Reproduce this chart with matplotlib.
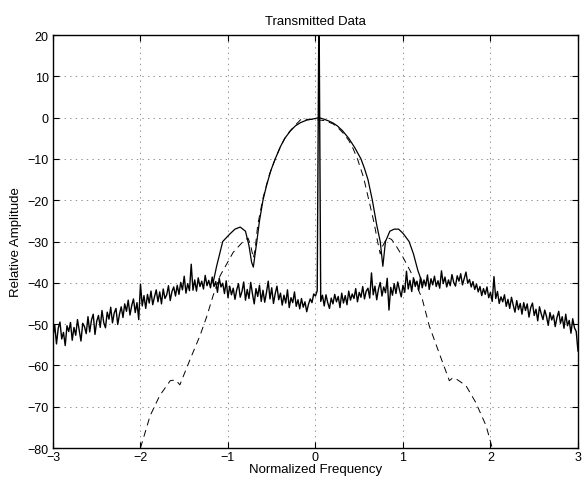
import numpy as np
import matplotlib
matplotlib.use("Agg")
import matplotlib.pyplot as plt

plt.rcParams['font.family'] = ['Liberation Sans', 'DejaVu Sans']
plt.rcParams['lines.scale_dashes'] = False

# Noise floor of the received spectrum, sampled every 0.02 from -3 to 3.
noise_x = np.round(np.arange(-3.0, 3.0001, 0.02), 2)
noise_db = [
    -53.1, -50.2, -54.8, -51.0, -49.5, -53.6, -52.0, -55.2, -50.4, -51.8,
    -49.6, -53.9, -50.8, -52.7, -48.9, -51.5, -54.1, -49.8, -50.6, -52.3,
    -48.2, -51.9, -49.0, -47.6, -52.5, -49.3, -47.9, -50.8, -46.7, -49.6,
    -50.9, -47.1, -48.8, -45.9, -49.7, -47.3, -46.2, -50.1, -47.6, -45.8,
    -48.4, -45.1, -46.9, -44.2, -47.8, -45.5, -43.9, -47.2, -44.8, -48.9,
    -40.3, -45.6, -43.1, -46.2, -42.8, -44.9, -42.0, -45.3, -43.4, -41.7,
    -44.6, -42.2, -45.1, -41.5, -43.8, -42.9, -40.7, -44.3, -42.1, -41.0,
    -43.2, -40.6, -42.8, -39.9, -41.7, -38.4, -42.5, -40.2, -41.9, -35.5,
    -41.8, -39.3, -42.0, -38.8, -40.9, -39.6, -41.5, -38.2, -40.7, -39.4,
    -41.2, -38.6, -40.9, -39.7, -42.3, -38.9, -41.0, -40.1, -42.6, -39.5,
    -43.6, -40.8, -42.9, -41.3, -44.0, -41.7, -40.2, -43.5, -42.1, -39.8,
    -44.2, -41.6, -43.8, -39.9, -42.7, -45.1, -41.4, -43.3, -40.6, -44.5,
    -41.8, -44.7, -42.3, -39.6, -43.9, -41.2, -45.0, -42.6, -40.8, -44.1,
    -42.5, -45.4, -43.0, -44.9, -41.7, -46.0, -43.6, -44.8, -42.2, -45.7,
    -44.1, -46.3, -43.8, -45.9, -44.6, -47.0, -45.2, -43.9, -44.8, -42.7,
    -43.2, -41.9, 30.0, -44.5, -43.0, -45.6, -42.9, -44.8, -46.2, -43.7,
    -45.1, -42.8, -44.6, -43.3, -46.0, -42.5, -44.9, -43.1, -45.3, -42.0,
    -44.2, -42.7, -43.8, -41.4, -44.6, -42.3, -43.5, -40.9, -43.9, -42.0,
    -41.3, -43.7, -37.6, -42.9, -40.8, -44.1, -41.5, -39.9, -43.2, -41.0,
    -42.4, -38.9, -46.6, -41.1, -43.0, -40.2, -42.6, -39.8, -41.7, -43.4,
    -40.6, -42.3, -37.2, -41.5, -39.4, -42.1, -38.8, -40.9, -39.6, -41.8,
    -38.7, -41.2, -39.3, -40.8, -38.1, -41.6, -39.0, -40.5, -38.4, -40.9,
    -39.5, -41.3, -37.1, -40.2, -38.6, -41.0, -39.3, -40.7, -38.0, -39.9,
    -40.8, -38.3, -39.6, -37.8, -40.5, -38.9, -37.4, -40.1, -39.2, -41.0,
    -39.7, -41.6, -40.3, -42.2, -40.9, -43.1, -41.4, -42.8, -41.0, -43.6,
    -42.3, -44.5, -38.5, -43.8, -42.1, -45.0, -43.4, -44.6, -42.9, -45.7,
    -44.0, -46.2, -43.5, -45.4, -47.1, -44.3, -46.5, -45.0, -47.6, -44.8,
    -46.7, -45.1, -48.3, -46.0, -44.9, -47.9, -46.4, -49.2, -45.8, -47.5,
    -48.9, -46.6, -48.1, -50.3, -47.2, -49.0, -47.8, -50.6, -48.4, -46.9,
    -49.8, -48.2, -51.0, -47.6, -50.4, -49.1, -52.2, -48.7, -50.9, -51.8,
    -56.5,
]

# Transmitted spectrum (solid) - main lobe and sidelobes
tx_x = [-1.17, -1.13, -1.06, -0.98, -0.92, -0.86, -0.80, -0.76, -0.73, -0.71,
        -0.69, -0.67, -0.64, -0.60, -0.56, -0.51, -0.46, -0.40, -0.35, -0.29,
        -0.23, -0.17, -0.10, 0.00, 0.04, 0.10, 0.15, 0.20, 0.25, 0.31,
        0.38, 0.45, 0.52, 0.56, 0.60, 0.65, 0.70, 0.74, 0.77,
        0.80, 0.85, 0.90, 0.95, 1.00, 1.07, 1.12, 1.17, 1.22]
tx_db = [-40.0, -36.0, -30.0, -28.2, -27.0, -26.5, -27.5, -31.0, -35.0, -36.2,
         -33.0, -30.0, -25.0, -20.0, -16.5, -12.8, -10.0, -7.0, -5.0, -3.3,
         -2.0, -1.2, -0.6, -0.2, 0.0, -0.4, -0.8, -1.3, -2.0, -3.2,
         -5.0, -7.3, -10.0, -12.3, -15.0, -20.0, -26.0, -30.0, -36.0,
         -30.0, -27.5, -27.0, -27.0, -28.0, -30.0, -33.0, -37.0, -40.0]

# Ideal spectrum (dashed)
ideal_x = [-2.00, -1.89, -1.78, -1.66, -1.60, -1.57, -1.55, -1.43, -1.32, -1.24,
           -1.17, -1.09, -0.94, -0.81, -0.77, -0.74, -0.71, -0.69, -0.66, -0.60,
           -0.53, -0.46, -0.40, -0.35, -0.29, -0.23, -0.16, -0.10, 0.00, 0.10,
           0.20, 0.25, 0.31, 0.38, 0.43, 0.48, 0.55, 0.61, 0.67, 0.71,
           0.74, 0.77, 0.82, 0.87, 0.92, 1.00, 1.09,
           1.22, 1.30, 1.41, 1.53, 1.57, 1.61, 1.72, 1.83, 1.95, 2.02]
ideal_db = [-80.0, -72.2, -67.3, -63.7, -63.5, -64.2, -64.7, -58.4, -52.8, -48.0,
            -43.1, -38.3, -32.6, -29.6, -29.2, -31.0, -34.0, -32.0, -26.0, -19.5,
            -14.0, -10.0, -7.0, -5.0, -3.2, -1.8, -0.3, -0.4, -0.5, -0.7,
            -1.5, -2.3, -3.6, -5.5, -7.5, -10.0, -14.5, -20.0, -25.5, -30.0,
            -33.0, -31.0, -29.0, -29.5, -31.0, -33.8, -37.4,
            -43.9, -50.4, -56.8, -63.7, -63.0, -63.3, -64.9, -68.9, -74.6, -80.0]

xticks = [-3, -2, -1, 0, 1, 2, 3]
yticks = [-80, -70, -60, -50, -40, -30, -20, -10, 0, 10, 20]

fig = plt.figure(figsize=(5.86, 4.85), dpi=100)
ax = fig.add_axes([0.0904, 0.0742, 0.8959, 0.8515])

ax.plot(noise_x, noise_db, color='black', linewidth=1.0)
ax.plot(tx_x, tx_db, color='black', linewidth=0.9)
ax.plot(ideal_x, ideal_db, color='black', linewidth=0.7, dashes=(5, 3.5))

ax.set_xlim(-3, 3)
ax.set_ylim(-80, 20)
ax.set_xticks(xticks)
ax.set_yticks(yticks)
ax.grid(True, linestyle=(0, (1, 3)), color='black', linewidth=0.5, alpha=0.6)
ax.tick_params(direction='in', length=4, labelsize=9, top=True, right=True)
ax.tick_params(axis='x', pad=2)
ax.tick_params(axis='y', pad=3)
for s in ax.spines.values():
    s.set_linewidth(1.0)

ax.set_title("Transmitted Data", fontsize=9.5, pad=8)
ax.set_xlabel("Normalized Frequency", fontsize=9.5, labelpad=0)
ax.set_ylabel("Relative Amplitude", fontsize=9.5, labelpad=4)

fig.savefig("out.png", dpi=100)
